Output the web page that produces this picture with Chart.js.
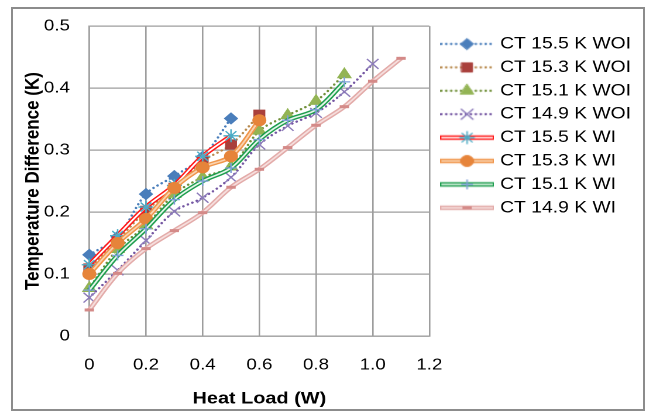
<!DOCTYPE html>
<html><head><meta charset="utf-8">
<script src="https://cdn.jsdelivr.net/npm/chart.js@4.4.1/dist/chart.umd.min.js"></script>
<style>
html,body{margin:0;padding:0;background:#fff;width:646px;height:412px;overflow:hidden}
#frame{position:absolute;left:11px;top:7px;width:634px;height:404px;border:2px solid #8c8c8c;box-sizing:border-box}
#wrap{position:absolute;left:0;top:0;width:552px;height:412px;transform:scaleX(1.17029);transform-origin:0 0}
</style></head><body>
<div id="frame"></div>
<div id="wrap"><canvas id="c" width="552" height="412"></canvas></div>
<script>
// ---- data ----
const heatLoad = [0, 0.1, 0.2, 0.3, 0.4, 0.5, 0.6, 0.7, 0.8, 0.9, 1.0, 1.1];
const ct155WOI = [0.131, 0.160, 0.229, 0.258, 0.289, 0.351];
const ct153WOI = [0.109, 0.155, 0.202, 0.239, 0.282, 0.309, 0.357];
const ct151WOI = [0.077, 0.140, 0.178, 0.229, 0.256, 0.273, 0.331, 0.356, 0.379, 0.422];
const ct149WOI = [0.062, 0.106, 0.154, 0.201, 0.223, 0.256, 0.309, 0.339, 0.360, 0.394, 0.439];
const ct155WI  = [0.115, 0.162, 0.208, 0.243, 0.290, 0.323];
const ct153WI  = [0.100, 0.150, 0.189, 0.239, 0.272, 0.290, 0.348];
const ct151WI  = [0.074, 0.130, 0.173, 0.220, 0.250, 0.271, 0.317, 0.348, 0.365, 0.410];
const ct149WI  = [0.042, 0.101, 0.141, 0.170, 0.199, 0.240, 0.269, 0.304, 0.340, 0.370, 0.411, 0.448];
const seriesNames = ['CT 15.5 K WOI', 'CT 15.3 K WOI', 'CT 15.1 K WOI', 'CT 14.9 K WOI',
                     'CT 15.5 K WI', 'CT 15.3 K WI', 'CT 15.1 K WI', 'CT 14.9 K WI'];
const seriesValues = [ct155WOI, ct153WOI, ct151WOI, ct149WOI, ct155WI, ct153WI, ct151WI, ct149WI];
const xTickValues = [0, 0.2, 0.4, 0.6, 0.8, 1, 1.2];
const yTickValues = [0, 0.1, 0.2, 0.3, 0.4, 0.5];
const xTitle = 'Heat Load (W)';
const yTitle = 'Temperature Difference (K)';

// ---- styles ----
const FONT = "'Liberation Sans', Arial, sans-serif";
const styles = [
  {kind:'woi', line:'#4A7EBB', ps:'rectRot', r:5.5, fill:'#4A7EBB', stroke:'#4A7EBB', bw:1},
  {kind:'woi', line:'#B88A4E', ps:'rect', r:6.5, fill:'#A9403C', stroke:'#A9403C', bw:1},
  {kind:'woi', line:'#71903A', ps:'triangle', r:6.5, fill:'#93B454', stroke:'#93B454', bw:1},
  {kind:'woi', line:'#7456A2', ps:'crossRot', r:7, fill:'#8C7BBA', stroke:'#8C7BBA', bw:1.3},
  {kind:'wi', line:'#FF1A1A', inner:'#FFFFFF', ps:'star', r:6.5, fill:'#4BACC6', stroke:'#4BACC6', bw:1.3},
  {kind:'wi', line:'#F0954A', inner:'#FAD3B0', ps:'circle', r:5.5, fill:'#E6843A', stroke:'#E6843A', bw:1},
  {kind:'wi', line:'#1E9E4E', inner:'#E4F6EA', ps:'cross', r:5, fill:'#7E9FD8', stroke:'#7E9FD8', bw:1.3},
  {kind:'wi', line:'#E3ABA9', inner:'#F6DEDD', ps:'line', r:4, fill:'#D48A88', stroke:'#D48A88', bw:3}
];
const DOT = [0.01, 4.2];
const OUTER_W = 4.4, INNER_W = 1.6, DOT_W = 2.3;

function legendImage(st) {
  const cv = document.createElement('canvas');
  cv.width = 46; cv.height = 16;
  const ctx = cv.getContext('2d');
  const y = 8;
  ctx.lineCap = st.kind === 'woi' ? 'round' : 'butt';
  if (st.kind === 'woi') {
    ctx.setLineDash(DOT); ctx.lineWidth = DOT_W; ctx.strokeStyle = st.line;
    ctx.beginPath(); ctx.moveTo(1, y); ctx.lineTo(45, y); ctx.stroke();
    ctx.setLineDash([]);
  } else {
    ctx.lineWidth = OUTER_W; ctx.strokeStyle = st.line;
    ctx.beginPath(); ctx.moveTo(0, y); ctx.lineTo(46, y); ctx.stroke();
    ctx.lineWidth = INNER_W; ctx.strokeStyle = st.inner;
    ctx.beginPath(); ctx.moveTo(1, y); ctx.lineTo(45, y); ctx.stroke();
  }
  ctx.fillStyle = st.fill; ctx.strokeStyle = st.stroke; ctx.lineWidth = st.bw;
  Chart.helpers.drawPoint(ctx, {pointStyle: st.ps, radius: st.r, rotation: 0, borderWidth: st.bw}, 23, y);
  return cv;
}

function pts(ys) { return ys.map((v, i) => ({x: heatLoad[i], y: v})); }

const datasets = [];
const outlines = [];
seriesNames.forEach((name, i) => {
  const st = styles[i];
  const base = {
    label: name, data: pts(seriesValues[i]), tension: 0.33, clip: false,
    pointStyle: st.ps, pointRadius: st.r, pointHoverRadius: st.r,
    pointBackgroundColor: st.fill, pointBorderColor: st.stroke, pointBorderWidth: st.bw,
    legendImg: legendImage(st)
  };
  if (st.kind === 'woi') {
    datasets.push(Object.assign(base, {
      borderColor: st.line, borderWidth: DOT_W, borderDash: DOT, borderCapStyle: 'round',
      order: 100 - 2 * i
    }));
  } else {
    datasets.push(Object.assign(base, {
      borderColor: st.inner, borderWidth: INNER_W, order: 100 - 2 * i - 1
    }));
    outlines.push({
      label: name + ' outline', outline: true, data: pts(seriesValues[i]), tension: 0.33, clip: false,
      borderColor: st.line, borderWidth: OUTER_W, pointRadius: 0, pointHoverRadius: 0,
      order: 100 - 2 * i
    });
  }
});
const allSets = datasets.concat(outlines);

const legendPlace = {
  id: 'legendPlace',
  afterLayout(chart) {
    const lg = chart.legend;
    if (!lg) return;
    lg.left = 372.2; lg.right = 552;
    lg.top = 28.85; lg.bottom = 410;
    lg.width = lg.right - lg.left; lg.height = lg.bottom - lg.top;
  }
};

const gridColor = '#9d9d9d';
new Chart(document.getElementById('c'), {
  type: 'line',
  data: { datasets: allSets },
  plugins: [legendPlace],
  options: {
    responsive: false, animation: false, devicePixelRatio: 2,
    layout: { padding: { left: 12, top: 24.7, right: 40, bottom: 0 } },
    plugins: {
      tooltip: { enabled: false },
      legend: {
        position: 'right', align: 'start', maxWidth: 145.1,
        labels: {
          usePointStyle: true, pointStyleWidth: 40, padding: 6.9, color: '#000',
          font: { family: FONT, size: 16.5 },
          generateLabels(chart) {
            const items = Chart.defaults.plugins.legend.labels.generateLabels(chart);
            return items.filter(it => !chart.data.datasets[it.datasetIndex].outline)
              .sort((a, b) => a.datasetIndex - b.datasetIndex)
              .map(it => {
                it.pointStyle = chart.data.datasets[it.datasetIndex].legendImg;
                it.rotation = 0;
                return it;
              });
          }
        }
      }
    },
    scales: {
      x: {
        type: 'linear', min: 0, max: 1.2,
        afterBuildTicks(s) { s.ticks = xTickValues.map(v => ({value: v})); },
        afterFit(s) { s.height = 76; },
        grid: { color: gridColor, lineWidth: 1.3, drawTicks: false },
        border: { color: gridColor, width: 1.3 },
        ticks: { padding: 19.4, color: '#000', font: { family: FONT, size: 16 }, maxRotation: 0 },
        title: { display: true, text: xTitle, color: '#000', font: { family: FONT, size: 17, weight: 'bold' }, padding: { top: 0, bottom: 3 } }
      },
      y: {
        type: 'linear', min: 0, max: 0.5,
        afterBuildTicks(s) { s.ticks = yTickValues.map(v => ({value: v})); },
        afterFit(s) { s.width = 64.3; },
        grid: { color: gridColor, lineWidth: 1.3, drawTicks: false },
        border: { color: gridColor, width: 1.3 },
        ticks: { padding: 16.5, color: '#000', font: { family: FONT, size: 16 } },
        title: { display: true, text: yTitle, color: '#000', font: { family: FONT, size: 17, weight: 'bold' }, padding: { top: 6, bottom: 0 } }
      }
    }
  }
});
</script>
</body></html>
